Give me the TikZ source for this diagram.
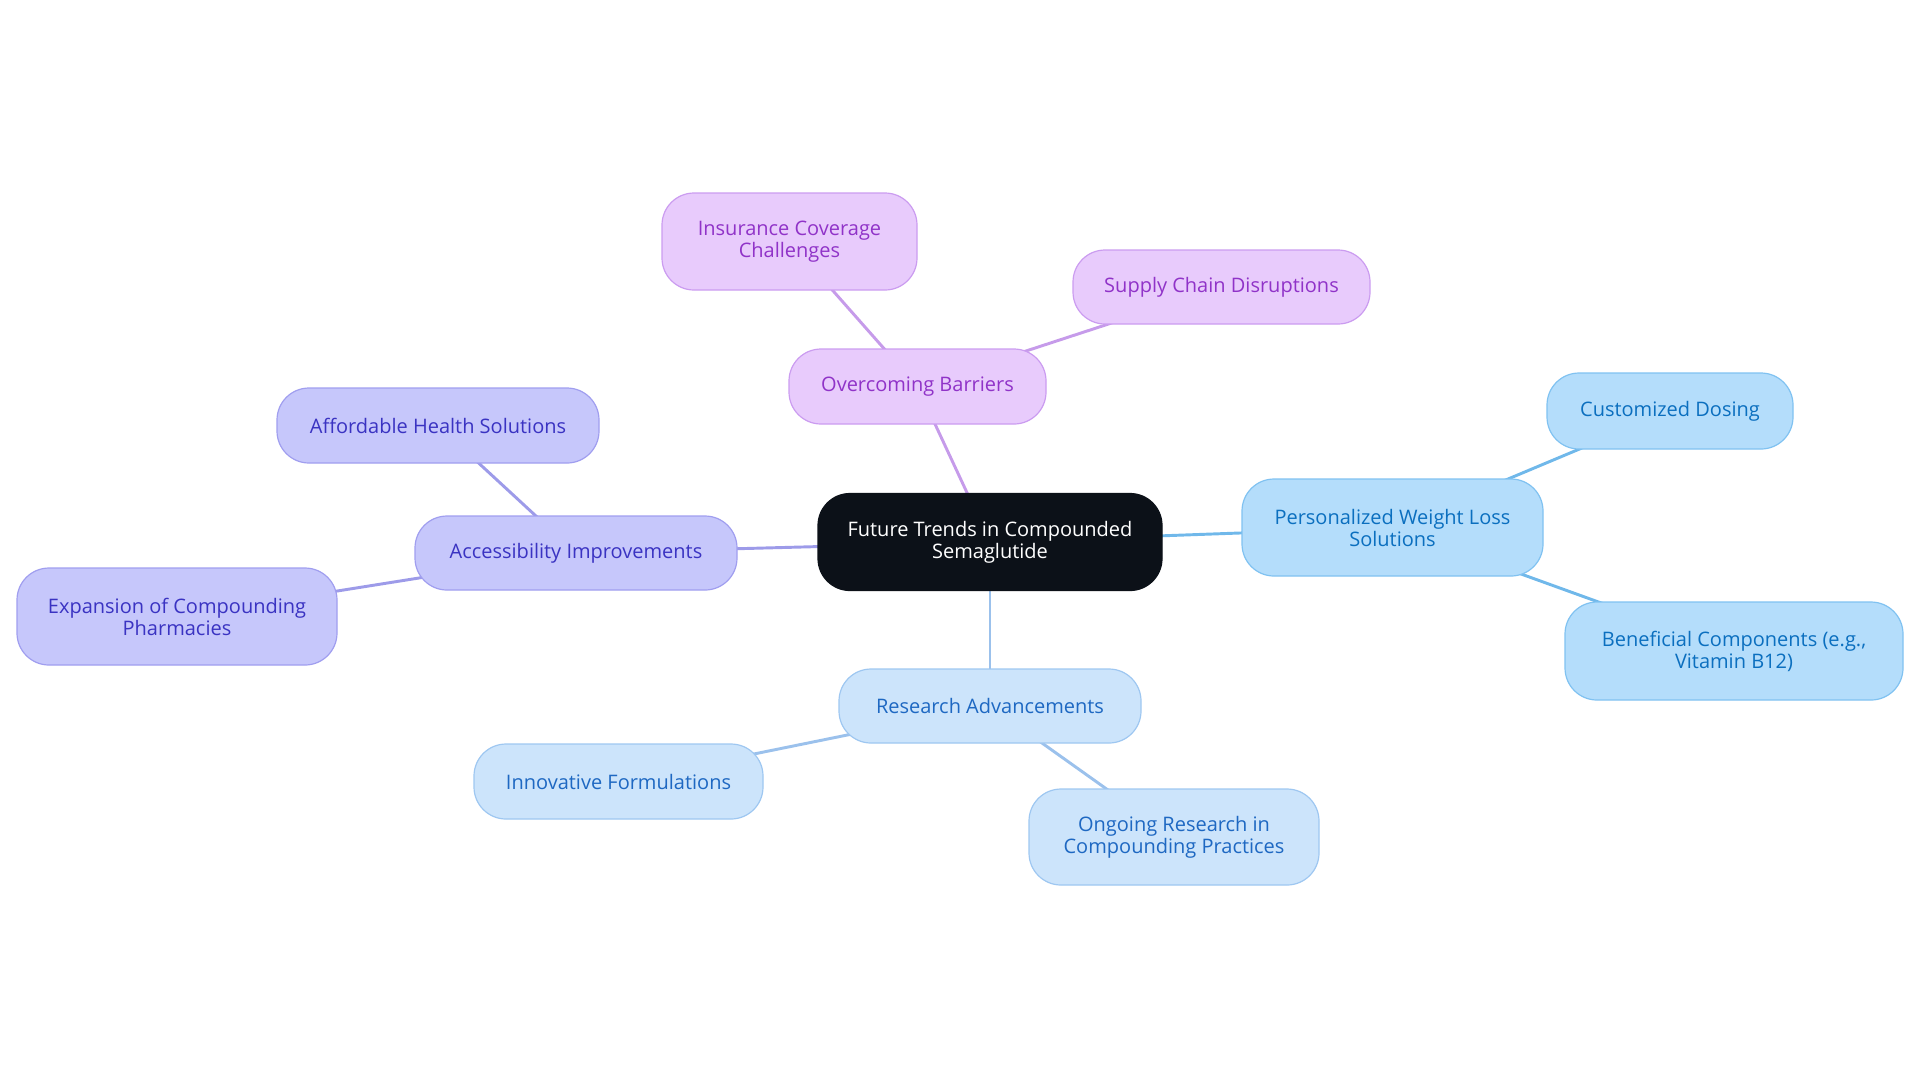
\documentclass[tikz,border=0pt]{standalone}
\usepackage{fontspec}
\setmainfont{Open Sans}
\usetikzlibrary{backgrounds}
\definecolor{ctrfill}{HTML}{0C1118}
\definecolor{purfill}{HTML}{E8CBFC}
\definecolor{purdraw}{HTML}{CB9CF0}
\definecolor{purtext}{HTML}{9033C8}
\definecolor{purline}{HTML}{C69BEA}
\definecolor{indfill}{HTML}{C6C7FB}
\definecolor{inddraw}{HTML}{A09EEF}
\definecolor{indtext}{HTML}{3A33C2}
\definecolor{indline}{HTML}{9D9BE9}
\definecolor{resfill}{HTML}{CCE4FB}
\definecolor{resdraw}{HTML}{9EC7F1}
\definecolor{restext}{HTML}{1E68C2}
\definecolor{resline}{HTML}{9BC1EC}
\definecolor{perfill}{HTML}{B4DDFB}
\definecolor{perdraw}{HTML}{80C2F1}
\definecolor{pertext}{HTML}{0B6FBF}
\definecolor{perline}{HTML}{70B8EA}
\begin{document}
\begin{tikzpicture}[x=0.75pt,y=-0.75pt,
  box/.style={rounded corners=24pt, inner sep=0pt, align=center, line width=0.9pt,
    font=\fontsize{15pt}{16.5pt}\selectfont},
  ctr/.style={box, fill=ctrfill, draw=ctrfill, text=white},
  pur/.style={box, fill=purfill, draw=purdraw, text=purtext},
  ind/.style={box, fill=indfill, draw=inddraw, text=indtext},
  res/.style={box, fill=resfill, draw=resdraw, text=restext},
  per/.style={box, fill=perfill, draw=perdraw, text=pertext},
  link/.style={line width=2.2pt}]
\useasboundingbox (0,0) rectangle (1920,1083);
% nodes
\node[ctr, minimum width=344*0.75pt, minimum height=97*0.75pt] (c) at (990,542) {Future Trends in Compounded\\Semaglutide};
\node[per, minimum width=301*0.75pt, minimum height=97*0.75pt] (pers) at (1392.5,527.5) {Personalized Weight Loss\\Solutions};
\node[per, minimum width=246*0.75pt, minimum height=76*0.75pt] (cust) at (1670,411) {Customized Dosing};
\node[per, minimum width=338*0.75pt, minimum height=98*0.75pt] (ben) at (1734,651) {Beneficial Components (e.g.,\\Vitamin B12)};
\node[pur, minimum width=257*0.75pt, minimum height=75*0.75pt] (over) at (917.5,386.5) {Overcoming Barriers};
\node[pur, minimum width=255*0.75pt, minimum height=97*0.75pt] (ins) at (789.5,241.5) {Insurance Coverage\\Challenges};
\node[pur, minimum width=297*0.75pt, minimum height=74*0.75pt] (sup) at (1221.5,287) {Supply Chain Disruptions};
\node[ind, minimum width=322*0.75pt, minimum height=74*0.75pt] (acc) at (576,553) {Accessibility Improvements};
\node[ind, minimum width=322*0.75pt, minimum height=75*0.75pt] (aff) at (438,425.5) {Affordable Health Solutions};
\node[ind, minimum width=320*0.75pt, minimum height=97*0.75pt] (exp) at (177,616.5) {Expansion of Compounding\\Pharmacies};
\node[res, minimum width=302*0.75pt, minimum height=74*0.75pt] (res) at (990,706) {Research Advancements};
\node[res, minimum width=289*0.75pt, minimum height=75*0.75pt] (inn) at (618.5,781.5) {Innovative Formulations};
\node[res, minimum width=290*0.75pt, minimum height=96*0.75pt] (ong) at (1174,837) {Ongoing Research in\\Compounding Practices};
% links
\begin{scope}[on background layer]
\draw[link, perline] (c.center) -- (pers.center);
\draw[link, perline] (pers.center) -- (cust.center);
\draw[link, perline] (pers.center) -- (ben.center);
\draw[link, purline] (c.center) -- (over.center);
\draw[link, purline] (over.center) -- (ins.center);
\draw[link, purline] (over.center) -- (sup.center);
\draw[link, indline] (c.center) -- (acc.center);
\draw[link, indline] (acc.center) -- (aff.center);
\draw[link, indline] (acc.center) -- (exp.center);
\draw[link, resline] (c.center) -- (res.center);
\draw[link, resline] (res.center) -- (inn.center);
\draw[link, resline] (res.center) -- (ong.center);
\end{scope}
\end{tikzpicture}
\end{document}
